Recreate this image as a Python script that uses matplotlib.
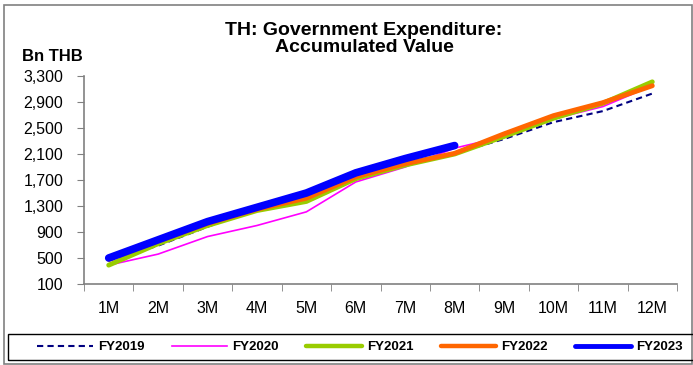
import numpy as np
import matplotlib.pyplot as plt
from matplotlib.patches import Rectangle
from matplotlib.ticker import FixedLocator

plt.rcParams['font.family'] = ['Liberation Sans', 'DejaVu Sans']

W, H = 693, 365

months = ['1M', '2M', '3M', '4M', '5M', '6M', '7M', '8M', '9M', '10M', '11M', '12M']
fy2019 = [460, 690, 980, 1250, 1480, 1740, 1930, 2110, 2330, 2590, 2760, 3030]
fy2020 = [390, 560, 830, 1000, 1210, 1670, 1900, 2190, 2370, 2640, 2830, 3150]
fy2021 = [390, 720, 1000, 1230, 1370, 1720, 1930, 2100, 2370, 2650, 2880, 3210]
fy2022 = [480, 760, 1030, 1250, 1420, 1750, 1950, 2110, 2410, 2690, 2890, 3150]
fy2023 = [500, 780, 1060, 1280, 1500, 1810, 2030, 2230]
yticks = [100, 500, 900, 1300, 1700, 2100, 2500, 2900, 3300]


def fx(px):
    return px / W


def fy(py):
    return 1 - py / H


fig = plt.figure(figsize=(W / 100, H / 100), dpi=100)
ax = fig.add_axes([fx(84), fy(284), fx(677) - fx(84), fy(76) - fy(284)])

x = np.arange(1, 13)
ax.plot(x, fy2019, color='#000080', lw=1.5, ls=(0, (3, 2)), label='FY2019')
ax.plot(x, fy2020, color='#FF00FF', lw=1.2, label='FY2020')
ax.plot(x, fy2021, color='#99CC00', lw=3.5, solid_capstyle='round', label='FY2021')
ax.plot(x, fy2022, color='#FF6600', lw=3.5, solid_capstyle='round', label='FY2022')
ax.plot(x[:len(fy2023)], fy2023, color='#0000FF', lw=5.5, solid_capstyle='round', label='FY2023')

ax.set_xlim(0.5, 12.5)
ax.set_ylim(100, 3300)
ax.set_yticks(yticks)
ax.set_yticklabels([f'{v:,}' for v in yticks], fontsize=11.5)
ax.set_xticks(x)
ax.set_xticklabels(months, fontsize=11.5)
ax.xaxis.set_minor_locator(FixedLocator(np.arange(0.5, 13, 1)))
ax.tick_params(axis='x', which='major', length=0, pad=12)
ax.tick_params(axis='x', which='minor', length=5, color='#808080')
ax.tick_params(axis='y', length=5, color='#808080', pad=10)

for side in ['top', 'right']:
    ax.spines[side].set_visible(False)
for side in ['left', 'bottom']:
    ax.spines[side].set_color('#808080')
    ax.spines[side].set_linewidth(1.2)

fig.text(fx(364), fy(52), 'TH: Government Expenditure:\nAccumulated Value', ha='center',
         va='baseline', fontsize=14, fontweight='bold', linespacing=1.0)
fig.text(fx(22), fy(61), 'Bn THB', ha='left', va='baseline', fontsize=12, fontweight='bold')

# outer frame and legend box
fig.patches.append(Rectangle((fx(4), fy(364)), fx(688), fy(5) - fy(364), transform=fig.transFigure,
                             fill=False, edgecolor='#808080', lw=1.2))
fig.patches.append(Rectangle((fx(8), fy(360)), fx(690), fy(334) - fy(360), transform=fig.transFigure,
                             fill=False, edgecolor='#000000', lw=1.0))

leg = fig.legend(loc='center left', bbox_to_anchor=(fx(37), fy(347)), ncol=5, frameon=False,
                 prop={'size': 9.5, 'weight': 'bold'}, handlelength=4.24, handletextpad=0.38,
                 columnspacing=2.05, borderaxespad=0, borderpad=0)
for line, lw in zip(leg.get_lines(), [1.5, 1.2, 3.2, 3.2, 3.5]):
    line.set_linewidth(lw)

fig.savefig('out.png', dpi=100)
